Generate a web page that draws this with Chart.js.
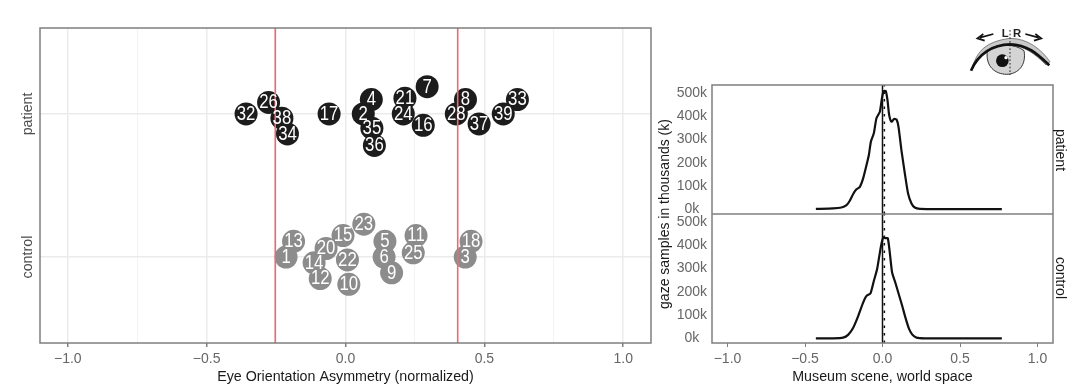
<!DOCTYPE html>
<html>
<head>
<meta charset="utf-8">
<title>Eye orientation asymmetry</title>
<script src="https://cdn.jsdelivr.net/npm/chart.js@4"></script>
<style>
  html, body { margin: 0; padding: 0; background: #fff; }
  body { width: 1084px; height: 384px; position: relative; overflow: hidden; }
  #leftBox { position: absolute; left: 0; top: 0; width: 655px; height: 384px; }
  #rightBox { position: absolute; left: 655px; top: 0; width: 429px; height: 384px; }
  #eye { position: absolute; left: 960px; top: 10px; }
</style>
</head>
<body>
<div id="leftBox"><canvas id="asymChart"></canvas></div>
<div id="rightBox"><canvas id="gazeChart"></canvas></div>

<svg id="eye" width="100" height="75" viewBox="0 0 300 225">
  <path d="M35 178 C50 125 75 95 150 85 C205 85 245 120 270 155 L258 165 C225 130 190 108 150 104 C100 104 65 130 35 178 Z" fill="#c9c9c9" stroke="#555" stroke-width="2"/>
  <path d="M82 122 C76 170 105 192 140 193 C175 192 200 165 192 122 C165 100 110 100 82 122 Z" fill="#d4d4d4" stroke="#333" stroke-width="3"/>
  <path d="M33 182 C55 130 100 104 150 103 C205 104 235 135 268 166" fill="none" stroke="#111" stroke-width="8"/>
  <circle cx="127" cy="152" r="19" fill="#111"/>
  <circle cx="138" cy="143" r="5" fill="#fff"/>
  <line x1="150" y1="60" x2="150" y2="195" stroke="#222" stroke-width="3" stroke-dasharray="5 6"/>
  <text x="136" y="82" text-anchor="middle" font-family="Liberation Sans" font-weight="bold" font-size="34" fill="#222">L</text>
  <text x="171" y="82" text-anchor="middle" font-family="Liberation Sans" font-weight="bold" font-size="34" fill="#222">R</text>
  <path d="M100 72 L60 83 M70 72 L52 85 L74 92" fill="none" stroke="#111" stroke-width="5"/>
  <path d="M196 72 L236 83 M226 72 L244 85 L222 92" fill="none" stroke="#111" stroke-width="5"/>
</svg>

<script>
// left panel, one value per participant
const patientIds = [2, 4, 7, 8, 16, 17, 21, 24, 26, 28, 32, 33, 34, 35, 36, 37, 38, 39];
const patientX = [0.064, 0.093, 0.294, 0.432, 0.280, -0.059, 0.214, 0.208, -0.277, 0.399, -0.358, 0.619, -0.209, 0.095, 0.104, 0.481, -0.229, 0.568];
const patientY = [2.00, 2.10, 2.19, 2.10, 1.92, 2.00, 2.11, 2.00, 2.08, 2.00, 2.00, 2.10, 1.86, 1.90, 1.78, 1.93, 1.97, 2.00];

const controlIds = [1, 3, 5, 6, 9, 10, 11, 12, 13, 14, 15, 18, 20, 22, 23, 25];
const controlX = [-0.214, 0.431, 0.142, 0.139, 0.166, 0.012, 0.254, -0.091, -0.187, -0.113, -0.009, 0.452, -0.070, 0.007, 0.066, 0.244];
const controlY = [1.00, 1.00, 1.11, 1.00, 0.89, 0.81, 1.15, 0.85, 1.11, 0.96, 1.15, 1.11, 1.06, 0.98, 1.23, 1.03];

const cutoffs = [-0.253, 0.404];
const groupLabels = ['control', 'patient'];
const groupRows = [1, 2];

// right panels, density curves
const patientCurveX = [-0.430, -0.319, -0.265, -0.232, -0.211, -0.189, -0.168, -0.146, -0.125, -0.103, -0.088, -0.075, -0.056, -0.039, -0.017, -0.002, 0.008, 0.021, 0.032, 0.043, 0.058, 0.075, 0.090, 0.103, 0.122, 0.144, 0.165, 0.187, 0.208, 0.241, 0.400, 0.770];
const patientCurveY = [2, 4, 8, 18, 37, 66, 86, 97, 133, 191, 234, 291, 327, 392, 420, 485, 509, 509, 471, 406, 377, 389, 387, 356, 255, 155, 68, 25, 8, 2, 1, 1];

const controlCurveX = [-0.430, -0.319, -0.254, -0.222, -0.189, -0.157, -0.125, -0.103, -0.078, -0.056, -0.035, -0.017, -0.005, 0.006, 0.019, 0.034, 0.047, 0.062, 0.084, 0.105, 0.127, 0.148, 0.170, 0.191, 0.219, 0.273, 0.770];
const controlCurveY = [0, 0, 3, 15, 46, 96, 154, 183, 193, 247, 297, 369, 412, 435, 431, 431, 369, 283, 237, 190, 140, 89, 43, 17, 3, 0, 0];

const majorTicks = [-1, -0.5, 0, 0.5, 1];
const allGridX = [-1, -0.75, -0.5, -0.25, 0, 0.25, 0.5, 0.75, 1];
const countTicks = [0, 100, 200, 300, 400, 500];

const fontName = '"Liberation Sans", Arial, sans-serif';
const frameColor = '#7f7f7f';
const tickText = '#666666';
const titleText = '#1a1a1a';

Chart.defaults.font.family = fontName;
Chart.defaults.animation = false;

function toPoints(xs, ys) {
  return xs.map((x, i) => ({ x: x, y: ys[i] }));
}

function xLabel(v) {
  const s = Math.abs(v).toFixed(1);
  return v < 0 ? '\u2212' + s : s;
}

function fitBottomAxis(s) {
  s.height = 41;
  s.paddingLeft = 0;
  s.paddingRight = 0;
}

function rotatedText(ctx, text, x, y, angle, font, color) {
  ctx.save();
  ctx.translate(x, y);
  ctx.rotate(angle);
  ctx.font = font;
  ctx.fillStyle = color;
  ctx.textAlign = 'center';
  ctx.textBaseline = 'middle';
  ctx.fillText(text, 0, 0);
  ctx.restore();
}

// id numbers are tall and narrow in the original
function idText(ctx, id, x, y) {
  ctx.save();
  ctx.translate(x, y);
  ctx.scale(0.86, 1);
  ctx.font = '19.5px ' + fontName;
  ctx.fillStyle = '#ffffff';
  ctx.textAlign = 'center';
  ctx.textBaseline = 'middle';
  ctx.fillText(id, 0, 0.5);
  ctx.restore();
}

function countAxis() {
  return {
    type: 'linear',
    position: 'left',
    stack: 'facets',
    stackWeight: 1,
    min: -20,
    max: 535,
    afterBuildTicks: s => { s.ticks = countTicks.map(v => ({ value: v })); },
    afterFit: s => { s.width = 57; },
    border: { display: false },
    grid: { display: false, drawTicks: false },
    ticks: {
      autoSkip: false,
      color: tickText,
      padding: 5,
      font: { size: 14 },
      // the zero label sits further in than the others in the original
      callback: v => v === 0 ? '0k\u00a0\u00a0' : v + 'k'
    }
  };
}

const leftLabels = {
  id: 'leftLabels',
  afterDatasetsDraw(chart) {
    const ctx = chart.ctx;
    const sx = chart.scales.x;
    const sy = chart.scales.y;
    patientIds.forEach((id, i) => {
      idText(ctx, id, sx.getPixelForValue(patientX[i]), sy.getPixelForValue(patientY[i]));
    });
    controlIds.forEach((id, i) => {
      idText(ctx, id, sx.getPixelForValue(controlX[i]), sy.getPixelForValue(controlY[i]));
    });
    groupLabels.forEach((name, i) => {
      rotatedText(ctx, name, 28, sy.getPixelForValue(groupRows[i]), -Math.PI / 2, '14.25px ' + fontName, '#4d4d4d');
    });
    const a = chart.chartArea;
    ctx.save();
    ctx.strokeStyle = frameColor;
    ctx.lineWidth = 1.5;
    ctx.strokeRect(a.left, a.top, a.right - a.left, a.bottom - a.top);
    ctx.restore();
  }
};

const rightLabels = {
  id: 'rightLabels',
  afterDatasetsDraw(chart) {
    const ctx = chart.ctx;
    const a = chart.chartArea;
    const top = chart.scales.yPatient;
    ctx.save();
    ctx.strokeStyle = frameColor;
    ctx.lineWidth = 1.5;
    ctx.strokeRect(a.left, a.top, a.right - a.left, a.bottom - a.top);
    ctx.beginPath();
    ctx.moveTo(a.left, top.bottom);
    ctx.lineTo(a.right, top.bottom);
    ctx.stroke();
    ctx.restore();
    rotatedText(ctx, 'patient', a.right + 7, 150, Math.PI / 2, '14px ' + fontName, titleText);
    rotatedText(ctx, 'control', a.right + 7, 278, Math.PI / 2, '14px ' + fontName, titleText);
    rotatedText(ctx, 'gaze samples in thousands (k)', 10, 214, -Math.PI / 2, '14px ' + fontName, titleText);
  }
};

new Chart(document.getElementById('asymChart'), {
  type: 'scatter',
  data: {
    datasets: [
      {
        data: toPoints(patientX, patientY),
        backgroundColor: '#1c1c1c',
        borderWidth: 0,
        pointRadius: 11.5,
        order: 2
      },
      {
        data: toPoints(controlX, controlY),
        backgroundColor: '#8c8c8c',
        borderWidth: 0,
        pointRadius: 11.5,
        order: 2
      },
      {
        type: 'line',
        data: [{ x: cutoffs[0], y: 0.4 }, { x: cutoffs[0], y: 2.6 }],
        borderColor: '#ee6a72',
        borderWidth: 1.6,
        pointRadius: 0,
        order: 1
      },
      {
        type: 'line',
        data: [{ x: cutoffs[1], y: 0.4 }, { x: cutoffs[1], y: 2.6 }],
        borderColor: '#ee6a72',
        borderWidth: 1.6,
        pointRadius: 0,
        order: 1
      }
    ]
  },
  options: {
    responsive: true,
    maintainAspectRatio: false,
    layout: { autoPadding: false, padding: { top: 28, right: 4, left: 0, bottom: 0 } },
    plugins: { legend: { display: false }, tooltip: { enabled: false } },
    scales: {
      x: {
        type: 'linear',
        min: -1.1,
        max: 1.1,
        afterBuildTicks: s => { s.ticks = allGridX.map(v => ({ value: v })); },
        afterFit: fitBottomAxis,
        border: { display: false },
        grid: {
          color: c => majorTicks.includes(c.tick.value) ? '#ebebeb' : '#f3f3f3',
          lineWidth: c => majorTicks.includes(c.tick.value) ? 1.5 : 1,
          tickColor: c => majorTicks.includes(c.tick.value) ? frameColor : 'rgba(0,0,0,0)',
          tickLength: 4
        },
        ticks: {
          autoSkip: false,
          maxRotation: 0,
          color: tickText,
          padding: 4,
          font: { size: 14 },
          callback: v => majorTicks.includes(v) ? xLabel(v) : ''
        },
        title: {
          display: true,
          text: 'Eye Orientation Asymmetry (normalized)',
          color: titleText,
          padding: 0,
          font: { size: 14.25, lineHeight: 1 }
        }
      },
      y: {
        type: 'linear',
        min: 0.4,
        max: 2.6,
        afterBuildTicks: s => { s.ticks = groupRows.map(v => ({ value: v })); },
        afterFit: s => { s.width = 40; },
        border: { display: false },
        grid: { color: '#ebebeb', lineWidth: 1.5, drawTicks: false },
        ticks: { display: false }
      }
    }
  },
  plugins: [leftLabels]
});

new Chart(document.getElementById('gazeChart'), {
  type: 'line',
  data: {
    datasets: [
      { data: toPoints(patientCurveX, patientCurveY), yAxisID: 'yPatient', borderColor: '#111', borderWidth: 2.2, pointRadius: 0, tension: 0.2 },
      { data: toPoints(controlCurveX, controlCurveY), yAxisID: 'yControl', borderColor: '#111', borderWidth: 2.2, pointRadius: 0, tension: 0.2 },
      { data: [{ x: 0, y: -20 }, { x: 0, y: 535 }], yAxisID: 'yPatient', borderColor: '#111', borderWidth: 1.5, pointRadius: 0 },
      { data: [{ x: 0, y: -20 }, { x: 0, y: 535 }], yAxisID: 'yControl', borderColor: '#111', borderWidth: 1.5, pointRadius: 0 },
      { data: [{ x: 0.012, y: -20 }, { x: 0.012, y: 535 }], yAxisID: 'yPatient', borderColor: '#111', borderWidth: 1.5, borderDash: [2.5, 5], pointRadius: 0 },
      { data: [{ x: 0.012, y: -20 }, { x: 0.012, y: 535 }], yAxisID: 'yControl', borderColor: '#111', borderWidth: 1.5, borderDash: [2.5, 5], pointRadius: 0 }
    ]
  },
  options: {
    responsive: true,
    maintainAspectRatio: false,
    layout: { autoPadding: false, padding: { top: 85, right: 31, left: 0, bottom: 0 } },
    plugins: { legend: { display: false }, tooltip: { enabled: false } },
    scales: {
      x: {
        type: 'linear',
        min: -1.1,
        max: 1.1,
        afterBuildTicks: s => { s.ticks = majorTicks.map(v => ({ value: v })); },
        afterFit: fitBottomAxis,
        border: { display: false },
        grid: { drawOnChartArea: false, tickColor: frameColor, tickLength: 4 },
        ticks: {
          autoSkip: false,
          maxRotation: 0,
          color: tickText,
          padding: 4,
          font: { size: 14 },
          callback: v => xLabel(v)
        },
        title: {
          display: true,
          text: 'Museum scene, world space',
          color: titleText,
          padding: 0,
          font: { size: 14.25, lineHeight: 1 }
        }
      },
      yControl: countAxis(),
      yPatient: countAxis()
    }
  },
  plugins: [rightLabels]
});
</script>
</body>
</html>
